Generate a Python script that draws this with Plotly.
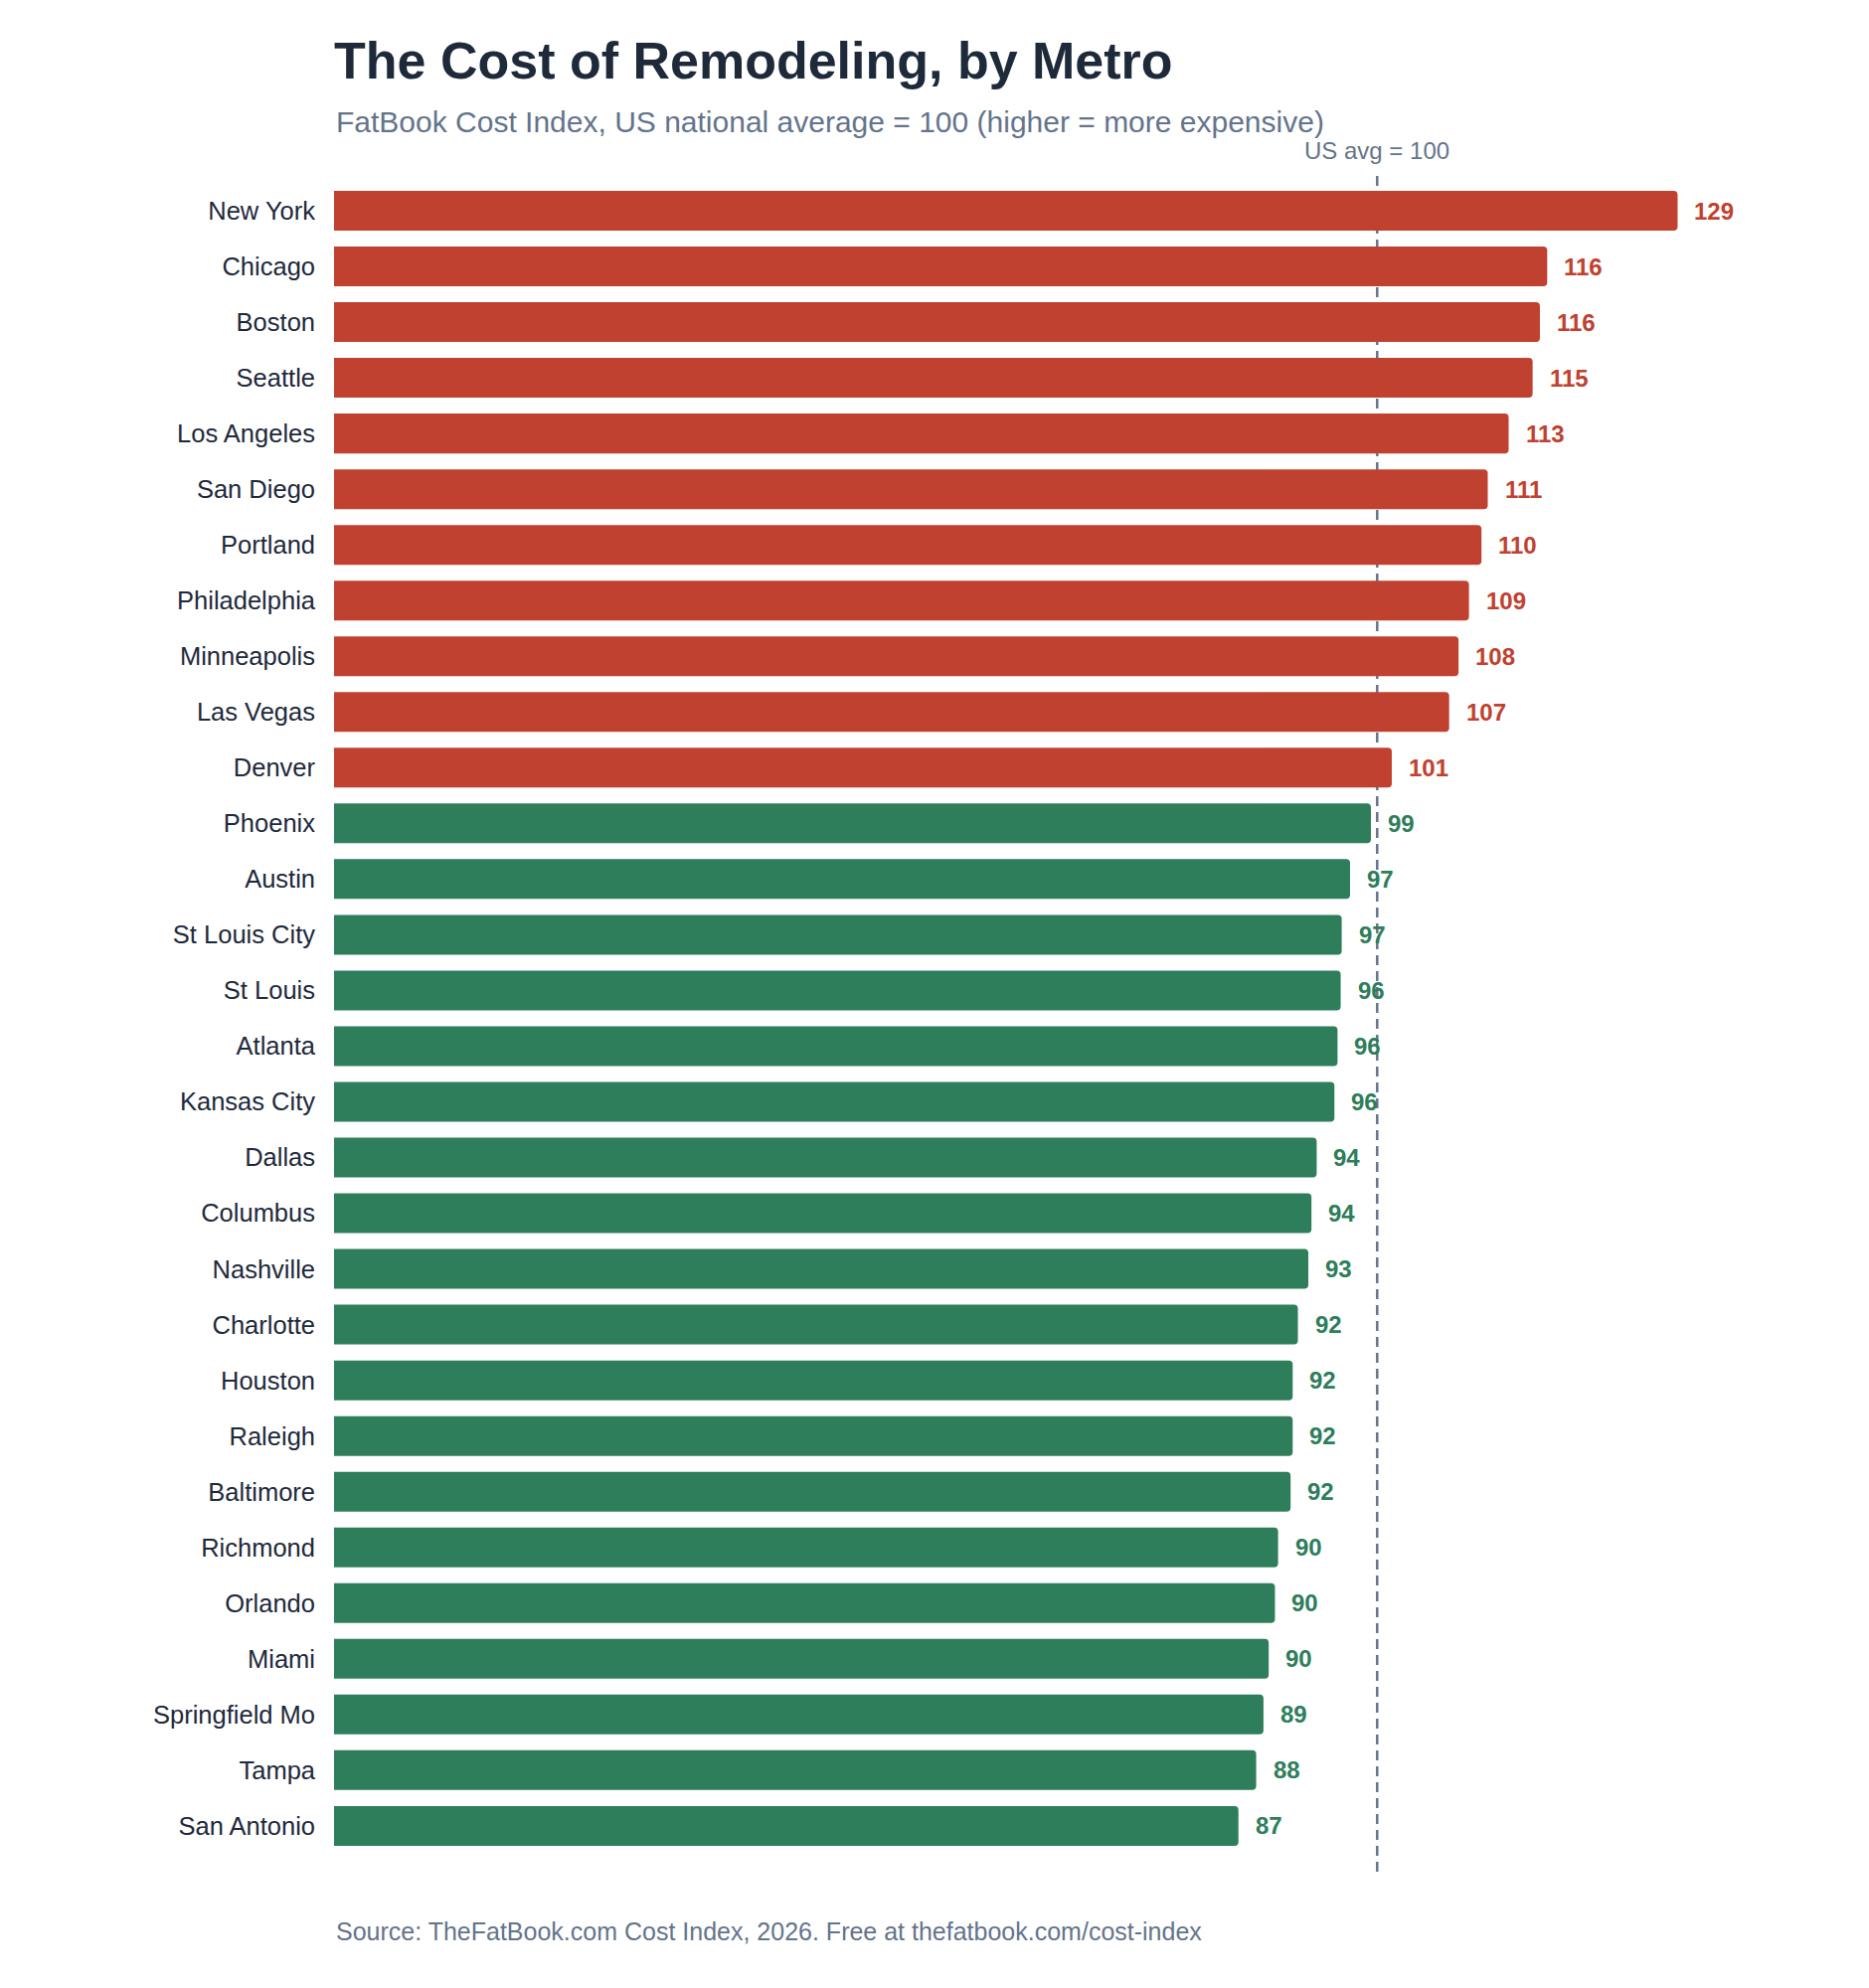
import plotly.graph_objects as go

metros = ["New York", "Chicago", "Boston", "Seattle", "Los Angeles", "San Diego", "Portland",
          "Philadelphia", "Minneapolis", "Las Vegas", "Denver", "Phoenix", "Austin",
          "St Louis City", "St Louis", "Atlanta", "Kansas City", "Dallas", "Columbus",
          "Nashville", "Charlotte", "Houston", "Raleigh", "Baltimore", "Richmond",
          "Orlando", "Miami", "Springfield Mo", "Tampa", "San Antonio"]
index_values = [128.8, 116.3, 115.6, 114.9, 112.6, 110.6, 110.0, 108.8, 107.8, 106.9, 101.4,
                99.4, 97.4, 96.6, 96.5, 96.2, 95.9, 94.2, 93.7, 93.4, 92.4, 91.9, 91.9, 91.7,
                90.5, 90.2, 89.6, 89.1, 88.4, 86.7]
us_avg = 100

RED = "#C0412F"
GREEN = "#2E7D5B"
FONT = "Liberation Sans, Arial, Helvetica, sans-serif"

colors = [RED if v > us_avg else GREEN for v in index_values]

fig = go.Figure()
fig.add_trace(go.Bar(
    x=index_values, y=metros, orientation="h",
    marker=dict(color=colors, cornerradius=4, line=dict(width=0)),
    hoverinfo="x+y", showlegend=False,
))

annotations = []
for m, v, c in zip(metros, index_values, colors):
    annotations.append(dict(
        x=v, y=m, xref="x", yref="y", text=f"{round(v):d}", showarrow=False,
        xanchor="left", yanchor="middle", xshift=15,
        font=dict(family=FONT, size=24, color=c, weight="bold"),
    ))

annotations.append(dict(
    x=us_avg, y=1.012, xref="x", yref="paper", text=f"US avg = {us_avg}",
    showarrow=False, xanchor="center", yanchor="middle",
    font=dict(family=FONT, size=24, color="#64748b"),
))
annotations.append(dict(
    x=0, y=1.0292, xref="paper", yref="paper",
    text="FatBook Cost Index, US national average = 100 (higher = more expensive)",
    showarrow=False, xanchor="left", yanchor="middle",
    font=dict(family=FONT, size=30, color="#64748b"),
))
annotations.append(dict(
    x=0, y=-0.0351, xref="paper", yref="paper",
    text="Source: TheFatBook.com Cost Index, 2026. Free at thefatbook.com/cost-index",
    showarrow=False, xanchor="left", yanchor="middle",
    font=dict(family=FONT, size=25, color="#64748b"),
))

fig.update_layout(
    width=1880, height=2000,
    margin=dict(l=336, r=75, t=172, b=117),
    paper_bgcolor="white", plot_bgcolor="white",
    bargap=0.286,
    title=dict(
        text="The Cost of Remodeling, by Metro",
        x=0, xref="paper", xanchor="left",
        y=1 - 61 / 2000, yref="container", yanchor="middle",
        font=dict(family=FONT, size=52, color="#1e2a3a", weight="bold"),
    ),
    xaxis=dict(range=[0, 140.0], visible=False, showgrid=False, zeroline=False),
    yaxis=dict(
        categoryorder="array", categoryarray=metros,
        range=[29.823, -0.714], showgrid=False, zeroline=False, showline=False,
        ticks="", ticklabelstandoff=18,
        tickfont=dict(family=FONT, size=25.5, color="#1e293b"),
    ),
    annotations=annotations,
    shapes=[dict(
        type="line", xref="x", yref="paper", x0=us_avg, x1=us_avg, y0=0, y1=1,
        line=dict(color="#64748b", width=2.5, dash="10px,6px"), layer="below",
    )],
)

fig.write_html("out.html")
